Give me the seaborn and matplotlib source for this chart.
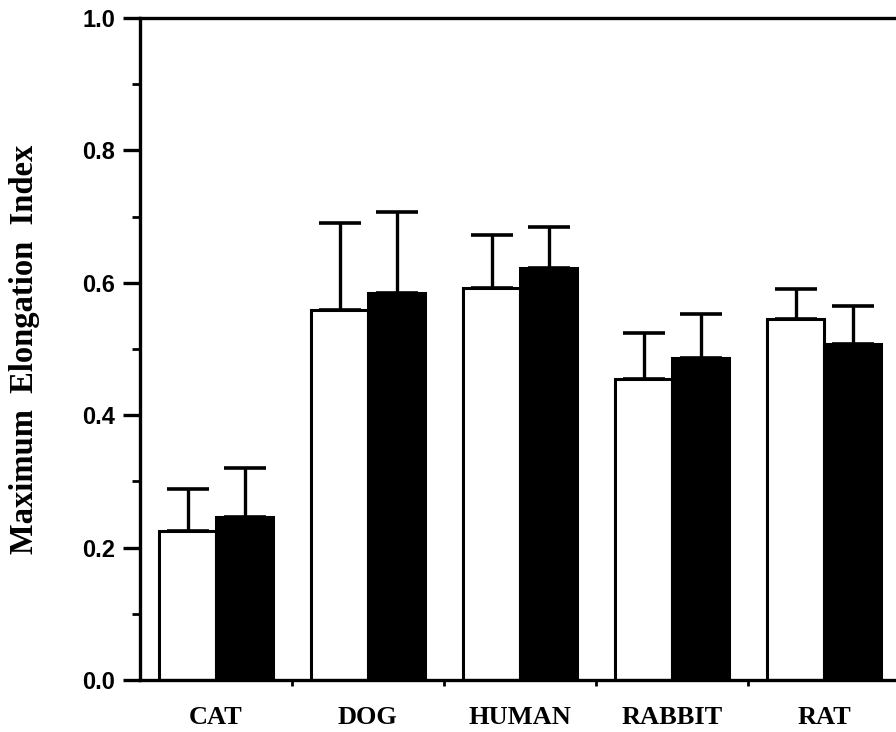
import matplotlib
matplotlib.use("Agg")
import matplotlib.pyplot as plt
from matplotlib.ticker import MultipleLocator, FixedLocator
import numpy as np
import pandas as pd
import seaborn as sns

species = ["CAT", "DOG", "HUMAN", "RABBIT", "RAT"]
conditions = ["open", "filled"]
mean_open = [0.225, 0.559, 0.592, 0.455, 0.545]
mean_filled = [0.246, 0.585, 0.622, 0.486, 0.508]
sd_open = [0.064, 0.131, 0.080, 0.069, 0.045]
sd_filled = [0.074, 0.122, 0.062, 0.067, 0.057]
y_ticks = [0.0, 0.2, 0.4, 0.6, 0.8, 1.0]

df = pd.DataFrame({
    "species": species * 2,
    "condition": [conditions[0]] * len(species) + [conditions[1]] * len(species),
    "mei": mean_open + mean_filled,
    "sd": sd_open + sd_filled,
})

sns.set_theme(style="white")
plt.rcParams["font.family"] = ["Liberation Sans", "DejaVu Sans"]
plt.rcParams["text.color"] = "black"
plt.rcParams["axes.labelcolor"] = "black"
plt.rcParams["xtick.color"] = "black"
plt.rcParams["ytick.color"] = "black"

fig = plt.figure(figsize=(8.96, 7.32), dpi=100)
ax = fig.add_axes([140 / 896, 1 - 680 / 732, 760 / 896, 662 / 732])

sns.barplot(data=df, x="species", y="mei", hue="condition",
            order=species, hue_order=conditions,
            palette={"open": "white", "filled": "black"},
            edgecolor="black", linewidth=2.2, width=0.75, gap=0,
            errorbar=None, legend=False, ax=ax)

# upward-only standard deviation bars, centred on each bar
for patch, (_, row) in zip(ax.patches, df.iterrows()):
    xc = patch.get_x() + patch.get_width() / 2
    ax.errorbar(xc, row["mei"], yerr=[[0], [row["sd"]]], fmt="none",
                ecolor="black", elinewidth=2.4, capsize=15, capthick=2.6,
                zorder=1)

ax.set_xlim(-0.5, 4.5)
ax.set_ylim(0, 1.0)
ax.set_yticks(y_ticks)
ax.set_yticklabels([f"{t:.1f}" for t in y_ticks], fontsize=17, fontweight="bold")
ax.yaxis.set_minor_locator(MultipleLocator(0.1))
ax.xaxis.set_minor_locator(FixedLocator([0.5, 1.5, 2.5, 3.5]))
ax.tick_params(axis="y", which="major", direction="out", length=12, width=2.4,
               pad=6, left=True, color="black", labelcolor="black")
ax.tick_params(axis="y", which="minor", direction="out", length=6, width=2,
               left=True, color="black")
ax.tick_params(axis="x", which="major", length=0, pad=19, labelcolor="black")
ax.tick_params(axis="x", which="minor", direction="out", length=4, width=2,
               bottom=True, color="black")

for lbl in ax.get_xticklabels():
    lbl.set_fontfamily(["Liberation Serif", "DejaVu Serif"])
    lbl.set_fontweight("bold")
    lbl.set_fontsize(19)

ax.set_xlabel("")
ax.set_ylabel("Maximum  Elongation  Index", fontsize=23.5, fontweight="bold",
              family=["Liberation Serif", "DejaVu Serif"], labelpad=30,
              color="black")

for side in ["left", "bottom", "top"]:
    ax.spines[side].set_visible(True)
    ax.spines[side].set_color("black")
    ax.spines[side].set_linewidth(2.4)
ax.spines["right"].set_visible(False)

fig.savefig("out.png", dpi=100, facecolor="white")
